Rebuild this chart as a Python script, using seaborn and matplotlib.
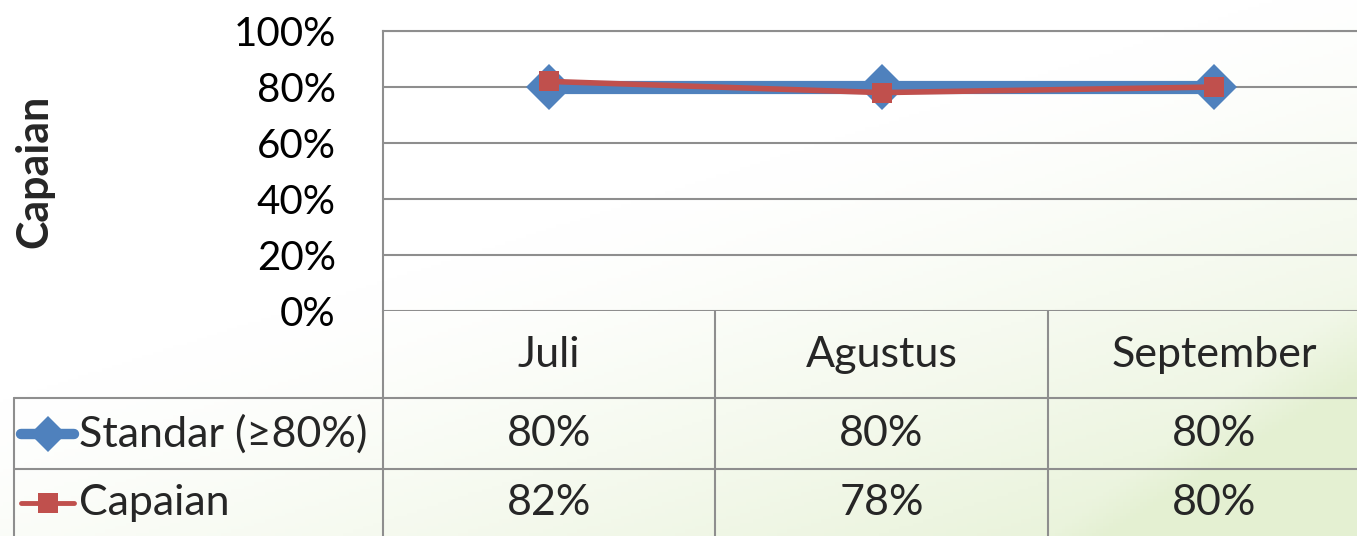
import numpy as np
import pandas as pd
import seaborn as sns
import matplotlib.pyplot as plt

bulan = ['Juli', 'Agustus', 'September']
standar = [0.80, 0.80, 0.80]
capaian = [0.82, 0.78, 0.80]
nama_standar = 'Standar (≥80%)'
nama_capaian = 'Capaian'
y_ticks = [0, 0.2, 0.4, 0.6, 0.8, 1.0]

biru = '#4F81BD'
merah = '#C0504D'
garis = '#8E8E8E'
fs = 29
fs_tabel = 31

sns.set_theme(style='white')
plt.rcParams['font.family'] = ['Lato', 'DejaVu Sans']

W, H = 1357, 536
fig = plt.figure(figsize=(W / 100, H / 100), dpi=100)

# latar belakang: gradasi hijau sangat tipis di kanan bawah
bg = fig.add_axes([0, 0, 1, 1], zorder=-10)
gx, gy = np.meshgrid(np.linspace(0, 1, 400), np.linspace(0, 1, 160))
t = np.clip((gx * 0.8 + gy * 1.0 - 0.75) / 1.05, 0, 1) ** 1.3
t = t + 0.5 * np.clip((gx - 0.9) * 8 + (gy - 0.75) * 4, 0, 1) * (gy > 0.5)
t = np.clip(t, 0, 1)
warna = np.ones((160, 400, 3))
hijau = np.array([228, 240, 210]) / 255
for i in range(3):
    warna[:, :, i] = 1 - t * (1 - hijau[i])
bg.imshow(warna, aspect='auto', extent=[0, 1, 0, 1], origin='upper')
bg.axis('off')

# area plot (piksel: kiri 383, kanan 1380, atas 31, bawah 311)
ax = fig.add_axes([383 / W, (H - 311) / H, 997 / W, 280 / H])
ax.patch.set_alpha(0)

df_s = pd.DataFrame({'bulan': bulan, 'nilai': standar})
df_c = pd.DataFrame({'bulan': bulan, 'nilai': capaian})
sns.lineplot(data=df_s, x='bulan', y='nilai', ax=ax, color=biru, lw=9.5,
             marker='D', markersize=23, markeredgewidth=0, sort=False,
             solid_capstyle='round', zorder=3)
sns.lineplot(data=df_c, x='bulan', y='nilai', ax=ax, color=merah, lw=4,
             marker='s', markersize=15, markeredgewidth=0, sort=False, zorder=4)

ax.set_xlim(-0.5, 2.5)
ax.set_ylim(0, 1)
ax.set_yticks(y_ticks)
ax.set_yticklabels([f'{int(v * 100)}%' for v in y_ticks], fontsize=fs)
ax.set_xticks([])
ax.set_xlabel('')
ax.set_ylabel('Capaian', fontsize=31, fontweight='bold')
ax.yaxis.set_label_coords((54 - 383) / 997, 0.5)
ax.tick_params(axis='y', length=0, pad=34, colors='black')
ax.yaxis.grid(True, color=garis, lw=1.5)
for s in ['right', 'bottom']:
    ax.spines[s].set_visible(False)
for s in ['top', 'left']:
    ax.spines[s].set_color(garis)
    ax.spines[s].set_linewidth(1.5)

# tabel data di bawah grafik, koordinat piksel
tb = fig.add_axes([0, 0, 1380 / W, (H - 311) / H])
tb.set_xlim(0, 1380)
tb.set_ylim(536, 311)
tb.axis('off')
tb.patch.set_alpha(0)

kol = [383, 715, 1048, 1380]
lw_t = 1.5
for yb in [398, 469]:
    tb.plot([14, 1380], [yb, yb], color=garis, lw=lw_t)
tb.plot([14, 14], [398, 536], color=garis, lw=lw_t)
for xk in kol[:3]:
    tb.plot([xk, xk], [311, 536], color=garis, lw=lw_t)

for i, b in enumerate(bulan):
    xc = (kol[i] + kol[i + 1]) / 2
    tb.text(xc, 355, b, ha='center', va='center', fontsize=fs_tabel)
    tb.text(xc, 434, f'{round(standar[i] * 100)}%', ha='center', va='center', fontsize=fs_tabel)
    tb.text(xc, 503, f'{round(capaian[i] * 100)}%', ha='center', va='center', fontsize=fs_tabel)

# kunci legenda di dalam tabel
tb.plot([21, 74], [434, 434], color=biru, lw=7.5, solid_capstyle='round')
tb.plot([48], [434], marker='D', color=biru, markersize=18, markeredgewidth=0)
tb.plot([21, 74], [503, 503], color=merah, lw=3.5, solid_capstyle='round')
tb.plot([48], [503], marker='s', color=merah, markersize=15, markeredgewidth=0)
tb.text(79, 434, nama_standar, ha='left', va='center', fontsize=fs_tabel)
tb.text(79, 503, nama_capaian, ha='left', va='center', fontsize=fs_tabel)

fig.savefig('out.png', dpi=100)
